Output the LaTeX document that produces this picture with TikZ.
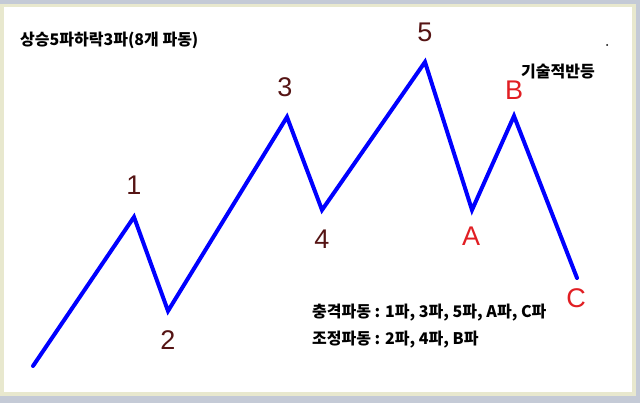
\documentclass[tikz,border=0pt]{standalone}
\usepackage{fontspec}
\setmainfont{Liberation Sans}
\newfontfamily\kr{Noto Sans CJK KR}
\definecolor{wavenum}{RGB}{85,20,20}
\definecolor{waveltr}{RGB}{225,30,35}
\definecolor{framegray}{RGB}{196,202,214}
\definecolor{framebeige}{RGB}{232,232,206}
\tikzset{
  num/.style={text=wavenum, font=\fontsize{27}{27}\selectfont, inner sep=0pt},
  ltr/.style={text=waveltr, font=\fontsize{27}{27}\selectfont, inner sep=0pt},
  note/.style={anchor=west, inner sep=0pt, font=\kr\bfseries\fontsize{16}{16}\selectfont}
}
\begin{document}
\begin{tikzpicture}[x=1pt, y=-1pt]
    % window frame
    \fill[framegray] (0,0) rectangle (640,403);
    \fill[framebeige] (0,4) rectangle (636,396);
    \fill[white] (4,7) rectangle (632,392);
    % wave points
    \coordinate (w0) at (33,366);
    \coordinate (w1) at (134,217);
    \coordinate (w2) at (168,311);
    \coordinate (w3) at (287,117);
    \coordinate (w4) at (322,210);
    \coordinate (w5) at (425,62);
    \coordinate (wA) at (472,210);
    \coordinate (wB) at (514,116);
    \coordinate (wC) at (577,278);
    \draw[blue, line width=4pt, line join=miter, line cap=round]
        (w0) -- (w1) -- (w2) -- (w3) -- (w4) -- (w5) -- (wA) -- (wB) -- (wC);
    % labels
    \node[num] (n1) at (134,185) {1};
    \node[num] (n2) at (168,340) {2};
    \node[num] (n3) at (285,87) {3};
    \node[num] (n4) at (322,239) {4};
    \node[num] (n5) at (425,32) {5};
    \node[ltr] (nA) at (471,236) {A};
    \node[ltr] (nB) at (514,90) {B};
    \node[ltr] (nC) at (576,298) {C};
    % texts
    \node[note] (title) at (20,40) {상승5파하락3파(8개 파동)};
    \node[note] (rebound) at (521,72) {기술적반등};
    \node[note] (impulse) at (312,313) {충격파동 : 1파, 3파, 5파, A파, C파};
    \node[note] (correct) at (312,340) {조정파동 : 2파, 4파, B파};
    \fill (607,45) circle (1pt);
\end{tikzpicture}
\end{document}
